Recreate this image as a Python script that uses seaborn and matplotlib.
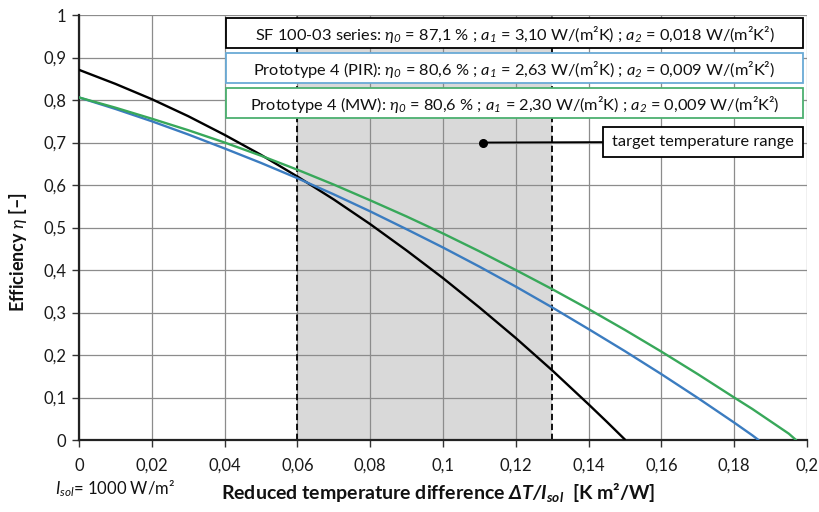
import matplotlib
matplotlib.use("Agg")
import matplotlib.pyplot as plt
from matplotlib.patches import Rectangle
import seaborn as sns
import pandas as pd

# ---------------- data ----------------
x_sf = [0.00, 0.01, 0.02, 0.03, 0.04, 0.05, 0.06, 0.07, 0.08, 0.09, 0.10,
        0.11, 0.12, 0.13, 0.14, 0.145, 0.15]
eta_sf = [0.871, 0.838, 0.802, 0.762, 0.718, 0.671, 0.620, 0.566, 0.508,
          0.446, 0.381, 0.312, 0.240, 0.164, 0.084, 0.043, 0.001]

x_pir = [0.00, 0.01, 0.02, 0.03, 0.04, 0.05, 0.06, 0.07, 0.08, 0.09, 0.10,
         0.11, 0.12, 0.13, 0.14, 0.15, 0.16, 0.17, 0.175, 0.18, 0.185, 0.1867]
eta_pir = [0.806, 0.779, 0.750, 0.719, 0.686, 0.652, 0.616, 0.578, 0.538,
           0.496, 0.453, 0.408, 0.361, 0.312, 0.261, 0.209, 0.155, 0.099,
           0.070, 0.041, 0.011, 0.000]

x_mw = [0.00, 0.01, 0.02, 0.03, 0.04, 0.05, 0.06, 0.07, 0.08, 0.09, 0.10,
        0.11, 0.12, 0.13, 0.14, 0.15, 0.16, 0.17, 0.18, 0.185, 0.19, 0.195,
        0.197]
eta_mw = [0.806, 0.782, 0.756, 0.729, 0.700, 0.669, 0.636, 0.601, 0.564,
          0.526, 0.486, 0.444, 0.400, 0.355, 0.308, 0.259, 0.208, 0.155,
          0.100, 0.073, 0.044, 0.015, 0.000]

series_names = ["SF 100-03", "Prototype 4 (PIR)", "Prototype 4 (MW)"]
series_colors = ["#000000", "#3b7cc0", "#38a85a"]

legend_texts = [
    r"SF 100-03 series: $\eta_{0}$ = 87,1 % ; $a_{1}$ = 3,10 W/(m²K) ; $a_{2}$ = 0,018 W/(m²K²)",
    r"Prototype 4 (PIR): $\eta_{0}$ = 80,6 % ; $a_{1}$ = 2,63 W/(m²K) ; $a_{2}$ = 0,009 W/(m²K²)",
    r"Prototype 4 (MW): $\eta_{0}$ = 80,6 % ; $a_{1}$ = 2,30 W/(m²K) ; $a_{2}$ = 0,009 W/(m²K²)",
]
legend_edges = ["#000000", "#6aaad6", "#4cb070"]

target_range = [0.06, 0.13]
target_label = "target temperature range"

x_ticks = [0, 0.02, 0.04, 0.06, 0.08, 0.10, 0.12, 0.14, 0.16, 0.18, 0.20]
x_ticklabels = ["0", "0,02", "0,04", "0,06", "0,08", "0,1", "0,12", "0,14",
                "0,16", "0,18", "0,2"]
y_ticks = [0, 0.1, 0.2, 0.3, 0.4, 0.5, 0.6, 0.7, 0.8, 0.9, 1.0]
y_ticklabels = ["0", "0,1", "0,2", "0,3", "0,4", "0,5", "0,6", "0,7", "0,8",
                "0,9", "1"]

# ---------------- styling ----------------
sns.set_theme(style="white")
plt.rcParams["font.family"] = ["Lato", "DejaVu Sans"]
plt.rcParams["mathtext.fontset"] = "custom"
plt.rcParams["mathtext.rm"] = "Lato:italic"
plt.rcParams["mathtext.it"] = "Lato:italic"
plt.rcParams["mathtext.bf"] = "Lato:bold"
plt.rcParams["mathtext.bfit"] = "Lato:italic:bold"

df = pd.concat([
    pd.DataFrame({"x": x_sf, "eta": eta_sf, "series": series_names[0]}),
    pd.DataFrame({"x": x_pir, "eta": eta_pir, "series": series_names[1]}),
    pd.DataFrame({"x": x_mw, "eta": eta_mw, "series": series_names[2]}),
])

fig = plt.figure(figsize=(8.2, 5.12), dpi=100)
ax = fig.add_axes([0.0963, 0.1406, 0.8878, 0.8301])

ax.set_axisbelow(True)
ax.axvspan(target_range[0], target_range[1], color="#d9d9d9", zorder=0.2, lw=0)
ax.grid(True, color="#8c8c8c", lw=0.9)

sns.lineplot(data=df, x="x", y="eta", hue="series", palette=series_colors,
             hue_order=series_names, estimator=None, sort=True, lw=1.7,
             legend=False, ax=ax, zorder=3)

for xv in target_range:
    ax.axvline(xv, color="black", lw=1.3, ls=(0, (3.5, 2)), zorder=2.5)

ax.set_xlim(0, 0.2)
ax.set_ylim(0, 1)
ax.set_xticks(x_ticks)
ax.set_xticklabels(x_ticklabels)
ax.set_yticks(y_ticks)
ax.set_yticklabels(y_ticklabels)
ax.tick_params(axis="both", direction="out", length=5, width=1,
               color="#333333", labelsize=12, labelcolor="#1a1a1a",
               left=True, bottom=True, pad=4)
ax.tick_params(axis="x", pad=8)

for s in ["top", "right"]:
    ax.spines[s].set_visible(False)
for s in ["left", "bottom"]:
    ax.spines[s].set_color("#222222")
    ax.spines[s].set_linewidth(1.6)

ax.set_xlabel("")
ax.set_ylabel("")

# legend boxes
box_y = [(0.9224, 0.993), (0.840, 0.9106), (0.7576, 0.828)]
for (y0, y1), txt, ec in zip(box_y, legend_texts, legend_edges):
    ax.add_patch(Rectangle((0.2019, y0), 0.9945 - 0.2019, y1 - y0,
                           transform=ax.transAxes, facecolor="white",
                           edgecolor=ec, lw=1.3, zorder=5))
    ax.text((0.2019 + 0.9945) / 2, (y0 + y1) / 2 - 0.003, txt,
            transform=ax.transAxes, ha="center", va="center",
            fontsize=11.8, color="#111111", zorder=6)

# target temperature range annotation
ax.add_patch(Rectangle((0.7198, 0.6659), 0.9945 - 0.7198, 0.7365 - 0.6659,
                       transform=ax.transAxes, facecolor="white",
                       edgecolor="black", lw=1.3, zorder=5))
ax.text((0.7198 + 0.9945) / 2, 0.701, target_label, transform=ax.transAxes,
        ha="center", va="center", fontsize=11.8, color="#111111", zorder=6)
ax.annotate("", xy=(0.111, 0.70), xycoords="data",
            xytext=(0.7198, 0.701), textcoords="axes fraction",
            arrowprops=dict(arrowstyle="-", color="black", lw=1.3,
                            shrinkA=0, shrinkB=0), zorder=4)
ax.plot([0.111], [0.70], "o", color="black", ms=5.5, zorder=6)

# axis labels
fig.text(0.022, 0.508, r"Efficiency $\eta$ [–]", rotation=90,
         ha="center", va="center", fontsize=13, fontweight="bold",
         color="#111111")
fig.text(0.534, 0.038,
         r"Reduced temperature difference $\mathbfit{\Delta T/I_{sol}}$  [K m²/W]",
         ha="center", va="center", fontsize=14, fontweight="bold",
         color="#111111")
fig.text(0.067, 0.045, r"$I_{sol}$= 1000 W/m²", ha="left",
         va="center", fontsize=12, color="#111111")

fig.savefig("out.png", dpi=100, facecolor="white")
